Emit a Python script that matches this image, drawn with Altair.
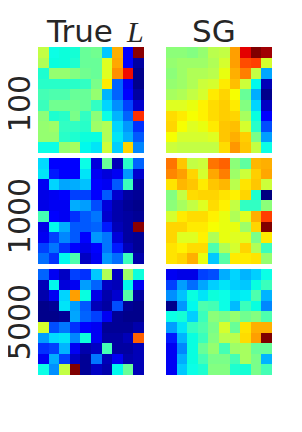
import altair as alt
import pandas as pd

true_100 = [
 [.60,.38,.40,.41,.50,.51,.31,.75,.12,.99],
 [.58,.39,.40,.42,.50,.50,.63,.76,.11,.03],
 [.42,.55,.55,.53,.51,.50,.63,.79,.90,.01],
 [.43,.43,.43,.43,.44,.52,.67,.18,.10,.01],
 [.46,.47,.47,.50,.50,.55,.28,.18,.11,.03],
 [.45,.51,.51,.51,.50,.44,.33,.23,.15,.07],
 [.54,.42,.43,.52,.44,.54,.38,.28,.18,.88],
 [.55,.56,.44,.44,.43,.56,.58,.33,.24,.14],
 [.55,.55,.43,.42,.40,.39,.58,.35,.27,.17],
 [.38,.38,.55,.57,.37,.35,.61,.32,.70,.22],
]
sg_100 = [
 [.54,.54,.53,.55,.59,.60,.77,.91,1.0,.97],
 [.55,.56,.56,.56,.58,.62,.77,.86,.87,.62],
 [.54,.56,.58,.58,.59,.64,.75,.81,.60,.26],
 [.55,.56,.58,.61,.62,.67,.73,.61,.37,.05],
 [.57,.58,.60,.62,.67,.70,.65,.50,.27,.01],
 [.63,.63,.64,.66,.69,.71,.67,.53,.33,.06],
 [.69,.67,.65,.66,.69,.71,.70,.57,.39,.11],
 [.70,.65,.63,.64,.67,.72,.73,.62,.43,.16],
 [.65,.62,.62,.62,.63,.72,.75,.71,.52,.25],
 [.61,.60,.60,.60,.60,.69,.78,.72,.60,.38],
]
true_1000 = [
 [.34,.12,.12,.11,.38,.08,.50,.05,.43,.18],
 [.35,.13,.12,.12,.35,.10,.08,.10,.24,.07],
 [.10,.33,.26,.27,.30,.11,.10,.17,.45,.03],
 [.09,.10,.12,.15,.15,.12,.17,.07,.03,.02],
 [.09,.10,.10,.27,.25,.16,.08,.04,.02,.01],
 [.46,.11,.10,.14,.17,.20,.07,.04,.03,.02],
 [.09,.37,.27,.17,.17,.18,.13,.05,.03,.99],
 [.10,.15,.22,.17,.11,.24,.20,.08,.03,.02],
 [.15,.20,.14,.11,.09,.12,.20,.13,.05,.02],
 [.19,.14,.37,.47,.06,.10,.24,.19,.45,.04],
]
sg_1000 = [
 [.82,.72,.60,.61,.82,.84,.54,.49,.74,.75],
 [.80,.77,.70,.62,.76,.81,.56,.61,.71,.76],
 [.68,.74,.72,.67,.72,.74,.59,.68,.72,.61],
 [.53,.60,.69,.70,.70,.68,.66,.70,.42,.00],
 [.54,.57,.60,.63,.69,.66,.60,.44,.44,.54],
 [.62,.67,.69,.69,.66,.64,.58,.63,.75,.87],
 [.70,.70,.67,.67,.65,.64,.64,.56,.70,1.0],
 [.70,.63,.63,.66,.58,.64,.63,.63,.52,.67],
 [.68,.66,.69,.69,.47,.58,.62,.70,.58,.45],
 [.68,.70,.75,.64,.31,.48,.67,.67,.68,.55],
]
true_5000 = [
 [.18,.10,.06,.15,.14,.31,.58,.06,.56,.40],
 [.05,.37,.08,.10,.25,.18,.06,.05,.37,.10],
 [.04,.10,.33,.77,.39,.09,.04,.07,.48,.03],
 [.01,.02,.35,.25,.17,.05,.03,.16,.02,.01],
 [.01,.01,.02,.26,.18,.15,.10,.02,.01,.01],
 [.62,.16,.20,.14,.12,.10,.02,.02,.02,.04],
 [.25,.34,.35,.22,.40,.10,.03,.03,.05,.84],
 [.14,.15,.28,.10,.04,.06,.46,.03,.03,.05],
 [.10,.27,.15,.06,.02,.20,.05,.10,.04,.05],
 [.38,.23,.60,1.0,.02,.06,.04,.37,.50,.05],
]
sg_5000 = [
 [.10,.09,.09,.15,.16,.27,.33,.28,.32,.38],
 [.15,.25,.19,.26,.32,.35,.32,.31,.39,.45],
 [.23,.30,.39,.35,.40,.38,.35,.36,.47,.28],
 [.01,.24,.37,.47,.46,.38,.29,.45,.39,.22],
 [.38,.41,.32,.45,.54,.52,.55,.51,.53,.47],
 [.25,.35,.44,.47,.52,.62,.50,.68,.75,.75],
 [.13,.28,.39,.45,.53,.59,.59,.69,.77,1.0],
 [.10,.22,.39,.50,.55,.46,.56,.57,.50,.50],
 [.10,.27,.39,.46,.52,.52,.46,.57,.52,.28],
 [.10,.31,.38,.42,.53,.53,.42,.41,.52,.46],
]
row_labels = ["100", "1000", "5000"]
row_dy = [56.5, 58, 53]

# matplotlib "jet" break points
jet_knots = [0, .11, .125, .34, .35, .375, .64, .65, .66, .89, .91, 1]
jet_colors = ["#000080", "#0000ff", "#0000ff", "#00dbff", "#00e5f8", "#0fffe8",
              "#e8ff0f", "#f6ff01", "#fff200", "#ff1600", "#e40000", "#800000"]
TEXT = "#262626"
SIZE = 106

def heat(matrix):
    df = pd.DataFrame([{"r": r, "r2": r + 1, "c": c, "c2": c + 1, "v": v}
                       for r, row in enumerate(matrix) for c, v in enumerate(row)])
    return alt.Chart(df).mark_rect().encode(
        x=alt.X("c:Q", axis=None, scale=alt.Scale(domain=[0, 10], round=True, nice=False)),
        x2="c2:Q",
        y=alt.Y("r:Q", axis=None, scale=alt.Scale(domain=[0, 10], round=True, nice=False, reverse=True)),
        y2="r2:Q",
        color=alt.Color("v:Q", legend=None, scale=alt.Scale(domain=jet_knots, range=jet_colors)),
    ).properties(width=SIZE, height=SIZE)

def label(text, x, y, size=30, font="DejaVu Sans", style="normal", angle=0, align="left"):
    return alt.Chart(pd.DataFrame({"t": [text]})).mark_text(
        font=font, fontSize=size, fontStyle=style, color=TEXT, angle=angle,
        align=align, baseline="alphabetic",
    ).encode(x=alt.value(x), y=alt.value(y), text="t:N")

rows = []
for i, (left, right) in enumerate([(true_100, sg_100), (true_1000, sg_1000), (true_5000, sg_5000)]):
    lp = alt.layer(heat(left), label(row_labels[i], -8, row_dy[i], angle=270, align="center"))
    rp = heat(right)
    if i == 0:
        lp = alt.layer(lp, label("True", 9, -5, size=31), label("L", 89, -5, font="Liberation Serif", style="italic"))
        rp = alt.layer(rp, label("SG", 26, -5, size=31))
    rows.append(alt.hconcat(lp, rp, spacing=22))

chart = alt.vconcat(*rows, spacing=5).resolve_scale(color="shared").properties(
    padding={"left": -3, "top": 9, "right": 0, "bottom": 0}
).configure_view(stroke=None)
chart.save("out.html", embed_options={"renderer": "svg", "actions": False})
